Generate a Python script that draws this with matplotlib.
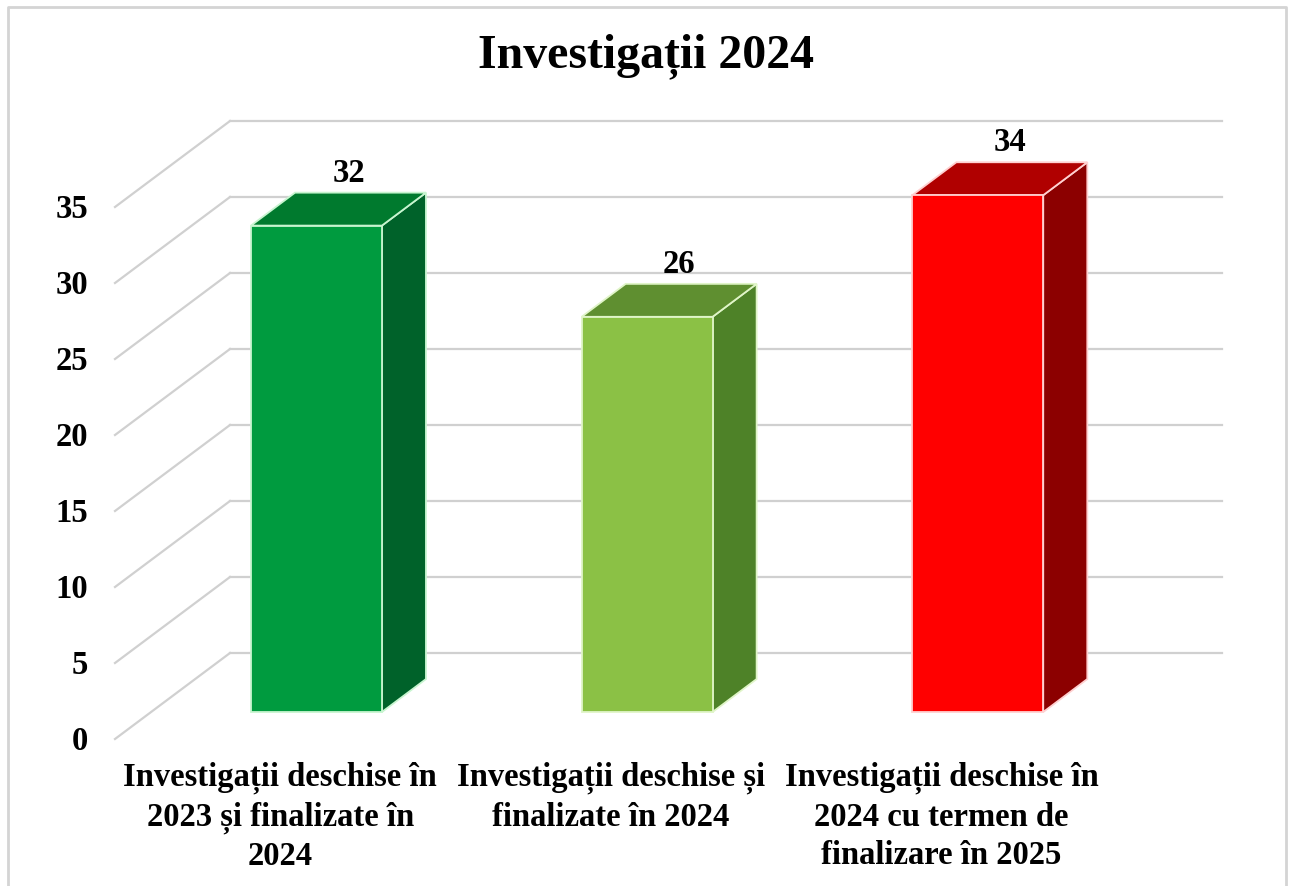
import matplotlib
matplotlib.use('Agg')
import matplotlib.pyplot as plt
from matplotlib.patches import Polygon
from matplotlib.lines import Line2D
from matplotlib.transforms import IdentityTransform

plt.rcParams['font.family'] = ['Liberation Serif', 'DejaVu Serif']
plt.rcParams['font.weight'] = 'bold'

title = "Investigații 2024"
categories = [
    "Investigații deschise în\n2023 și finalizate în\n2024",
    "Investigații deschise și\nfinalizate în 2024",
    "Investigații deschise în\n2024 cu termen de\nfinalizare în 2025",
]
values = [32, 26, 34]
yticks = [0, 5, 10, 15, 20, 25, 30, 35]
front_colors = ["#009B3F", "#8BC145", "#FF0000"]
top_colors = ["#007A2E", "#5F8F30", "#B00000"]
side_colors = ["#00622A", "#4E8228", "#8C0000"]
edge_colors = ["#C8F5D0", "#E0F5C8", "#FFD0D0"]

W, H = 1291, 887
fig = plt.figure(figsize=(W / 100, H / 100), dpi=100)
ax = fig.add_axes([115 / W, (H - 740) / H, 992 / W, 532 / H])
ax.set_xlim(-0.5, 2.5)
ax.set_ylim(0, 35)
ax.axis('off')

DX, DY = 115.0, 86.0     # depth projection (pixels per unit depth)
D0, D1 = 0.314, 0.697    # bar depth range
BW = 0.396               # bar width in category units
ID = IdentityTransform()


def proj(x, y, d):
    px, py = ax.transData.transform((x, y))
    return (px + d * DX, py + d * DY)


grid_c = "#D0D0D0"
x0, x1 = ax.get_xlim()
for t in yticks:
    # back wall line
    a = proj(x0, t, 1.0)
    b = proj(x1, t, 1.0)
    ax.add_line(Line2D([a[0], b[0]], [a[1], b[1]], transform=ID, color=grid_c,
                       lw=1.6, clip_on=False, zorder=1))
    # side wall diagonal
    c = proj(x0, t, 0.0)
    ax.add_line(Line2D([c[0], a[0]], [c[1], a[1]], transform=ID, color=grid_c,
                       lw=1.6, clip_on=False, zorder=1))
    ax.annotate(str(t), xy=(x0, t), xytext=(-27, -2), textcoords='offset pixels',
                ha='right', va='center', fontsize=23.5, fontweight='bold', color='black')

for i, v in enumerate(values):
    l, r = i - BW / 2, i + BW / 2
    side = [proj(r, 0, D0), proj(r, 0, D1), proj(r, v, D1), proj(r, v, D0)]
    top = [proj(l, v, D0), proj(r, v, D0), proj(r, v, D1), proj(l, v, D1)]
    front = [proj(l, 0, D0), proj(r, 0, D0), proj(r, v, D0), proj(l, v, D0)]
    for pts, col in ((side, side_colors[i]), (top, top_colors[i]), (front, front_colors[i])):
        ax.add_patch(Polygon(pts, closed=True, transform=ID, facecolor=col,
                             edgecolor=edge_colors[i], lw=1.3, clip_on=False, zorder=3))
    mx, my = proj(i, v, (D0 + D1) / 2)
    ax.text(mx + 10, my + 37, str(v), transform=ID, ha='center', va='center',
            fontsize=23.5, fontweight='bold', color='black', zorder=5)

for i, cat in enumerate(categories):
    ax.annotate(cat, xy=(i, 0), xytext=(0, -22), textcoords='offset pixels',
                ha='center', va='top', fontsize=23.5, fontweight='bold',
                linespacing=1.3, color='black')

fig.text(0.5, (H - 56) / H, title, ha='center', va='center', fontsize=34.5,
         fontweight='bold', color='black')

bc = "#D4D4D4"
fig.add_artist(Line2D([8, 8, 1286, 1286], [0, H - 8, H - 8, 0], transform=ID,
                      color=bc, lw=2))

fig.savefig("out.png", dpi=100)
